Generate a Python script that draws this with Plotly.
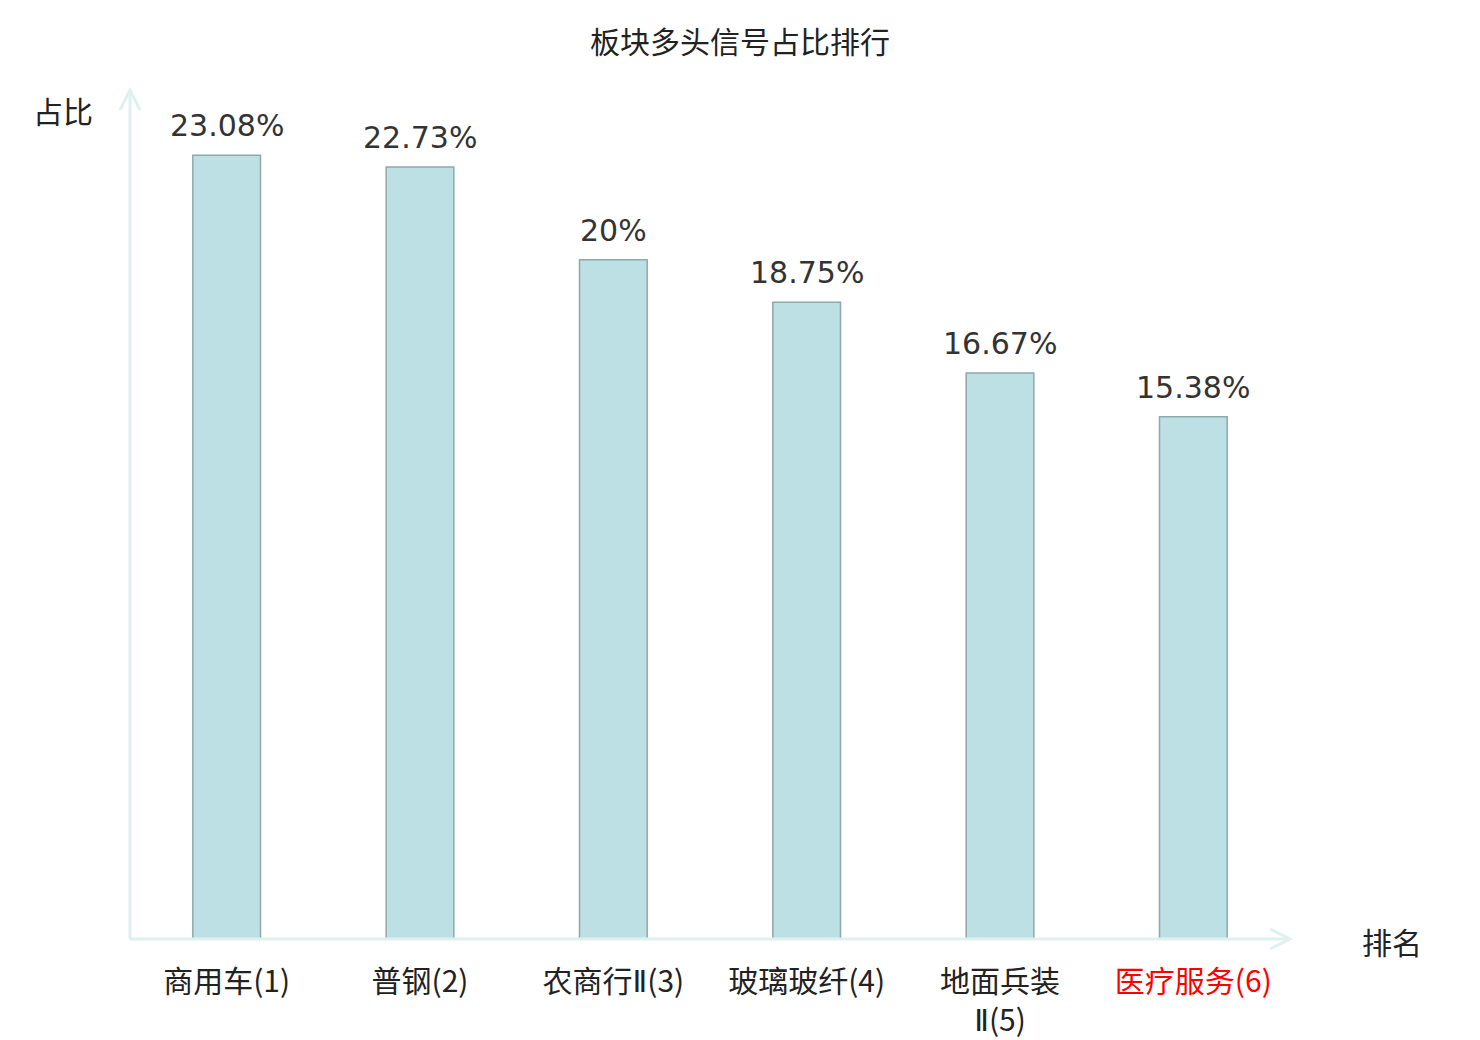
import plotly.graph_objects as go

# data
sectors = ["商用车(1)", "普钢(2)", "农商行Ⅱ(3)", "玻璃玻纤(4)", "地面兵装<br>Ⅱ(5)", "医疗服务(6)"]
ratios = [23.08, 22.73, 20.0, 18.75, 16.67, 15.38]
ratio_labels = ["23.08%", "22.73%", "20%", "18.75%", "16.67%", "15.38%"]
highlight = "医疗服务(6)"

CJK = "Noto Sans CJK SC"
AXIS_COLOR = "#dff1ee"

W, H = 1480, 1040
L, R, T, B = 130, 190, 90, 101
pw, ph = W - L - R, H - T - B


def tick_label(s):
    # narrow roman numeral like the reference
    s = s.replace("Ⅱ", "<span style='font-family:DejaVu Sans'>Ⅱ</span>")
    if s.startswith(highlight):
        s = f"<span style='color:#ff0000'>{s}</span>"
    return s


tick_text = [tick_label(s) for s in sectors]

fig = go.Figure()
fig.add_trace(go.Bar(
    x=sectors, y=ratios, width=0.35,
    marker=dict(color="#bce0e3", line=dict(color="#8fa9a9", width=1.5)),
    hoverinfo="x+y",
))

# value labels above bars
for s, v, lab in zip(sectors, ratios, ratio_labels):
    fig.add_annotation(x=s, y=v, text=lab, showarrow=False, yanchor="bottom",
                       yshift=10, font=dict(family="DejaVu Sans", size=30, color="#333333"))

# axis lines with open arrowheads
dx, dy = 10 / pw, 20 / ph
ax_line = dict(color=AXIS_COLOR, width=3)
fig.add_shape(type="line", xref="paper", yref="paper", x0=0, y0=0, x1=0, y1=1, line=ax_line)
fig.add_shape(type="line", xref="paper", yref="paper", x0=0, y0=0, x1=1, y1=0, line=ax_line)
fig.add_shape(type="path", xref="paper", yref="paper", line=ax_line,
              path=f"M {-dx} {1 - dy} L 0 1 L {dx} {1 - dy}")
fig.add_shape(type="path", xref="paper", yref="paper", line=ax_line,
              path=f"M {1 - 20 / pw} {10 / ph} L 1 0 L {1 - 20 / pw} {-10 / ph}")

# axis names
fig.add_annotation(text="占比", xref="paper", yref="paper", x=(63 - L) / pw, y=(H - B - 110) / ph,
                   xanchor="center", yanchor="middle", showarrow=False,
                   font=dict(family=CJK, size=30, color="#222222"))
fig.add_annotation(text="排名", xref="paper", yref="paper", x=(1392 - L) / pw, y=(H - B - 941) / ph,
                   xanchor="center", yanchor="middle", showarrow=False,
                   font=dict(family=CJK, size=30, color="#222222"))

fig.update_layout(
    width=W, height=H,
    margin=dict(l=L, r=R, t=T, b=B, autoexpand=False),
    paper_bgcolor="white", plot_bgcolor="white",
    title=dict(text="板块多头信号占比排行", x=0.5, xanchor="center", y=1 - 42 / H, yanchor="middle",
               font=dict(family=CJK, size=30, color="#222222")),
    showlegend=False,
    xaxis=dict(range=[-0.5, 5.5], tickvals=sectors, ticktext=tick_text, showgrid=False,
               showline=False, zeroline=False, ticks="outside", ticklen=16, automargin=False,
               tickcolor="rgba(0,0,0,0)", tickfont=dict(family=CJK, size=30, color="#222222")),
    yaxis=dict(range=[0, 25], showgrid=False, showline=False, zeroline=False, automargin=False,
               showticklabels=False, ticks=""),
)

# drop the default page margin so the figure fills the window exactly
fig.write_html("out.html", config={"displayModeBar": False},
               post_script="document.body.style.margin='0';document.body.style.overflow='hidden';")
